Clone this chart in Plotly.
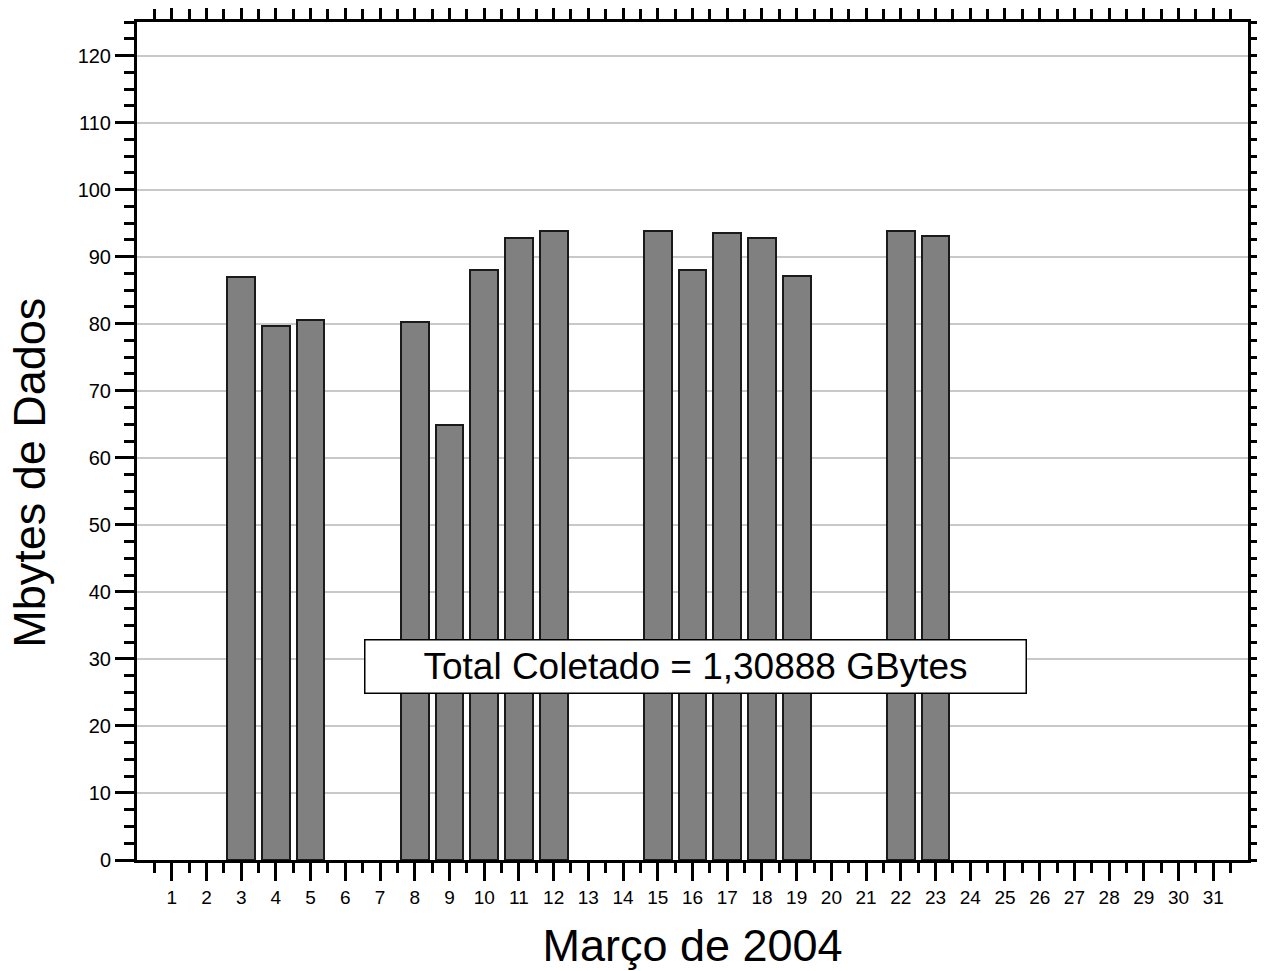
import plotly.graph_objects as go

# Data
days = [3, 4, 5, 8, 9, 10, 11, 12, 15, 16, 17, 18, 19, 22, 23]
mbytes = [87.0, 79.6, 80.5, 80.3, 64.9, 88.0, 92.8, 93.8, 93.8, 88.0, 93.5, 92.8, 87.1, 93.8, 93.1]
x_ticks = list(range(1, 32))
x_labels = [str(d) for d in x_ticks]
x_minor = [d + 0.5 for d in range(0, 32)]
y_ticks = list(range(0, 121, 10))
total_text = "Total Coletado = 1,30888 GBytes"
x_title = "Março de 2004"
y_title = "Mbytes de Dados"

FONT = "Liberation Sans, Arial, sans-serif"

fig = go.Figure()
fig.add_trace(go.Bar(
    x=days, y=mbytes, width=0.8,
    marker=dict(color="#808080", line=dict(color="#1a1a1a", width=2)),
    showlegend=False,
))

# page body has an 8px default margin, so the figure is sized/offset for it
fig.update_layout(
    width=1257, height=963,
    margin=dict(l=129, r=17, t=14, b=111, autoexpand=False),
    paper_bgcolor="white", plot_bgcolor="white",
    font=dict(family=FONT, color="black"),
    bargap=0,
)

fig.update_xaxes(
    range=[0, 32], automargin=False,
    tickmode="array", tickvals=x_ticks, ticktext=x_labels,
    ticks="outside", ticklen=18, tickwidth=3, tickcolor="black",
    tickfont=dict(size=19, family=FONT),
    showline=True, linecolor="black", linewidth=3, mirror="ticks",
    showgrid=False, zeroline=False,
    minor=dict(tickmode="array", tickvals=x_minor, ticks="outside",
               ticklen=10, tickwidth=3, tickcolor="black", showgrid=False),
    title=dict(text=x_title, font=dict(size=45, family=FONT), standoff=24),
)

fig.update_yaxes(
    range=[0, 125], automargin=False,
    tickmode="array", tickvals=y_ticks,
    ticks="outside", ticklen=19, tickwidth=3, tickcolor="black",
    tickfont=dict(size=20, family=FONT),
    showline=True, linecolor="black", linewidth=3, mirror="ticks",
    showgrid=True, gridcolor="#c8c8c8", gridwidth=2, zeroline=False,
    minor=dict(dtick=2.5, tick0=0, ticks="outside",
               ticklen=10, tickwidth=3, tickcolor="black", showgrid=False),
)

# y-axis title (sits a bit below the axis centre in the reference)
fig.add_annotation(
    x=0, y=0.462, xref="paper", yref="paper",
    xanchor="center", yanchor="middle", xshift=-107,
    text=y_title, textangle=-90, showarrow=False,
    font=dict(size=45, family=FONT, color="black"),
)

fig.add_annotation(
    x=16.1, y=28.9, xref="x", yref="y",
    text=total_text, showarrow=False,
    font=dict(size=37, family=FONT, color="black"),
    bgcolor="white", bordercolor="black", borderwidth=1.5,
    width=656, height=48, borderpad=2,
)

fig.write_html("out.html")
